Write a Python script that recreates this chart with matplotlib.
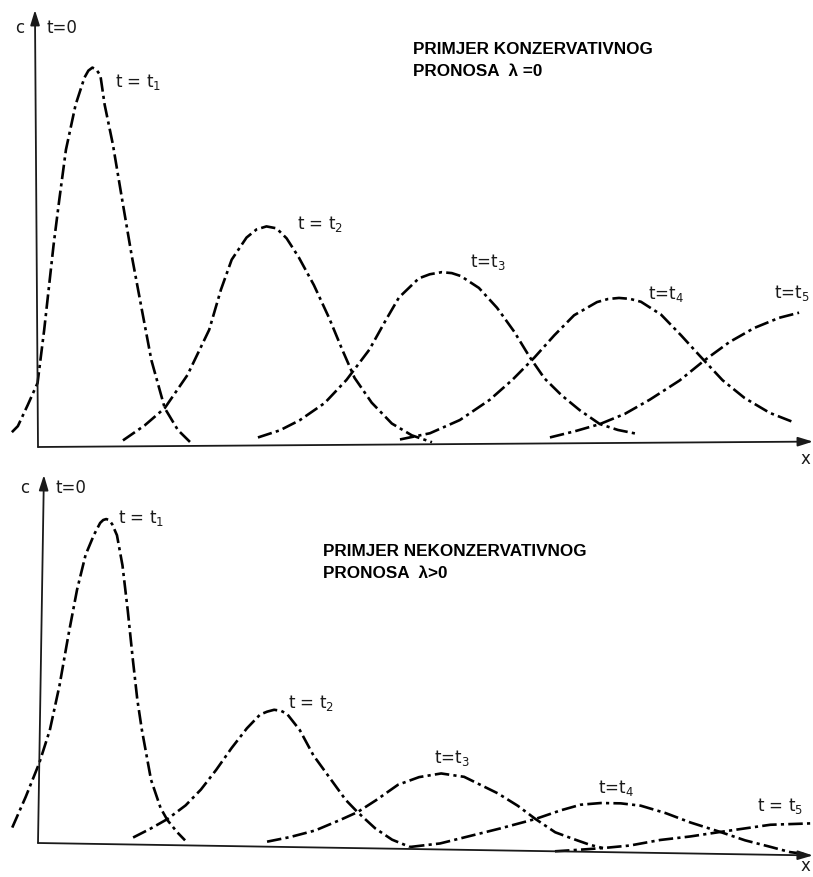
import matplotlib
matplotlib.use("Agg")
import matplotlib.pyplot as plt
from matplotlib import transforms

# --- conservative transport (upper panel): x distance, c concentration ---
top_t1_x = [-26, -20, -10, 0, 7, 17, 23, 30, 40, 49, 53, 57, 61, 65, 69, 77, 86, 95, 104, 114, 127, 140, 152]
top_t1_c = [15, 21, 42, 64, 117, 202, 247, 297, 342, 369, 376, 379, 377, 371, 342, 302, 246, 191, 141, 86, 38, 16, 4]
top_t2_x = [85, 107, 127, 150, 172, 184, 195, 210, 220, 230, 240, 250, 262, 277, 292, 305, 317, 334, 354, 374, 394]
top_t2_c = [6, 21, 38, 71, 116, 156, 186, 208, 216, 219, 217, 207, 188, 160, 127, 95, 67, 42, 21, 9, 2]
top_t3_x = [220, 242, 262, 287, 309, 332, 349, 362, 382, 393, 405, 415, 424, 442, 460, 477, 492, 507, 524, 542, 562, 580, 599]
top_t3_c = [8, 15, 25, 42, 65, 95, 125, 147, 166, 170, 172, 171, 168, 156, 136, 112, 87, 65, 48, 33, 19, 13, 9]
top_t4_x = [362, 392, 422, 452, 475, 497, 517, 537, 560, 571, 582, 593, 604, 624, 644, 662, 685, 707, 732, 757]
top_t4_c = [5, 11, 24, 44, 64, 86, 108, 128, 141, 144, 145, 144, 141, 128, 107, 87, 62, 44, 29, 19]
top_t5_x = [512, 537, 562, 587, 612, 642, 667, 692, 717, 742, 762]
top_t5_c = [6, 12, 19, 29, 43, 62, 82, 100, 114, 124, 129]

# --- non-conservative transport (lower panel) ---
bot_t1_x = [-26, -13, 0, 10, 19, 27, 35, 43, 51, 57, 60, 63, 66, 69, 74, 80, 86, 92, 97, 102, 112, 122, 129, 139, 147]
bot_t1_c = [15, 46, 80, 113, 158, 208, 254, 289, 309, 321, 324, 325, 324, 320, 309, 279, 234, 184, 145, 115, 65, 37, 25, 13, 5]
bot_t2_x = [95, 112, 129, 147, 162, 177, 192, 207, 220, 227, 234, 241, 247, 260, 274, 292, 307, 319, 337, 354, 372]
bot_t2_c = [7, 16, 26, 40, 56, 76, 98, 118, 132, 135, 137, 136, 133, 117, 92, 68, 48, 36, 20, 9, 2]
bot_t3_x = [229, 252, 277, 302, 319, 337, 359, 380, 402, 425, 442, 459, 479, 497, 517, 537, 552, 565]
bot_t3_c = [5, 10, 17, 28, 36, 48, 64, 72, 76, 73, 65, 57, 45, 32, 19, 12, 7, 4]
bot_t4_x = [372, 402, 432, 462, 497, 522, 542, 562, 582, 602, 627, 652, 682, 707, 732, 752, 769]
bot_t4_c = [2, 6, 14, 22, 32, 41, 47, 49, 49, 47, 40, 31, 22, 14, 8, 3, 1]
bot_t5_x = [517, 542, 565, 592, 622, 652, 682, 707, 732, 752, 772]
bot_t5_c = [0, 2, 4, 7, 13, 17, 22, 26, 30, 31, 32]

W, H = 813, 877
fig = plt.figure(figsize=(W / 100, H / 100), dpi=100)

line_kw = dict(color="black", lw=1.9, dashes=(5.5, 1.6, 1.2, 1.6), solid_joinstyle="round")
lab_kw = dict(fontsize=12, color="#1a1a1a", family="DejaVu Sans", va="center")
title_kw = dict(fontsize=12.3, fontweight="bold", family="Liberation Sans", va="center", color="black")


def panel(ox, oy, angle):
    # one transparent axes over the whole figure, origin at the axis corner
    ax = fig.add_axes([0, 0, 1, 1])
    ax.set_xlim(-ox, W - ox)
    ax.set_ylim(oy - H, oy)
    ax.axis("off")
    ax.patch.set_alpha(0)
    tr = transforms.Affine2D().rotate_deg(angle) + ax.transData
    return ax, tr


def axes_arrows(ax, tr, xlen, ylen):
    arrow = dict(arrowstyle="-|>,head_length=0.9,head_width=0.28", lw=1.3,
                 color="#1a1a1a", shrinkA=0, shrinkB=0)
    ax.annotate("", xy=(0, ylen), xytext=(0, 0), xycoords=tr, textcoords=tr, arrowprops=arrow)
    ax.annotate("", xy=(xlen, 0), xytext=(0, 0), xycoords=tr, textcoords=tr, arrowprops=arrow)


# upper panel
ax, tr = panel(38, 447, 0.4)
axes_arrows(ax, tr, 775, 437)
for xs, cs in [(top_t1_x, top_t1_c), (top_t2_x, top_t2_c), (top_t3_x, top_t3_c),
               (top_t4_x, top_t4_c), (top_t5_x, top_t5_c)]:
    ax.plot(xs, cs, transform=tr, **line_kw)
ax.text(-18, 419, "c", ha="center", **lab_kw)
ax.text(8, 419, "t=0", ha="left", **lab_kw)
ax.text(77, 365, "t = t$_1$", ha="left", **lab_kw)
ax.text(259, 223, "t = t$_2$", ha="left", **lab_kw)
ax.text(432, 185, "t=t$_3$", ha="left", **lab_kw)
ax.text(610, 153, "t=t$_4$", ha="left", **lab_kw)
ax.text(736, 154, "t=t$_5$", ha="left", **lab_kw)
ax.text(763, -12, "x", ha="left", **lab_kw)
ax.text(375, 397, "PRIMJER KONZERVATIVNOG", ha="left", **title_kw)
ax.text(375, 375, "PRONOSA  λ =0", ha="left", **title_kw)

# lower panel
ax, tr = panel(38, 843, -0.92)
axes_arrows(ax, tr, 775, 368)
for xs, cs in [(bot_t1_x, bot_t1_c), (bot_t2_x, bot_t2_c), (bot_t3_x, bot_t3_c),
               (bot_t4_x, bot_t4_c), (bot_t5_x, bot_t5_c)]:
    ax.plot(xs, cs, transform=tr, **line_kw)
ax.text(-13, 355, "c", ha="center", **lab_kw)
ax.text(17, 355, "t=0", ha="left", **lab_kw)
ax.text(80, 325, "t = t$_1$", ha="left", **lab_kw)
ax.text(250, 140, "t = t$_2$", ha="left", **lab_kw)
ax.text(396, 85, "t=t$_3$", ha="left", **lab_kw)
ax.text(560, 55, "t=t$_4$", ha="left", **lab_kw)
ax.text(719, 37, "t = t$_5$", ha="left", **lab_kw)
ax.text(763, -23, "x", ha="left", **lab_kw)
ax.text(285, 292, "PRIMJER NEKONZERVATIVNOG", ha="left", **title_kw)
ax.text(285, 270, "PRONOSA  λ>0", ha="left", **title_kw)

fig.savefig("out.png", dpi=100)
